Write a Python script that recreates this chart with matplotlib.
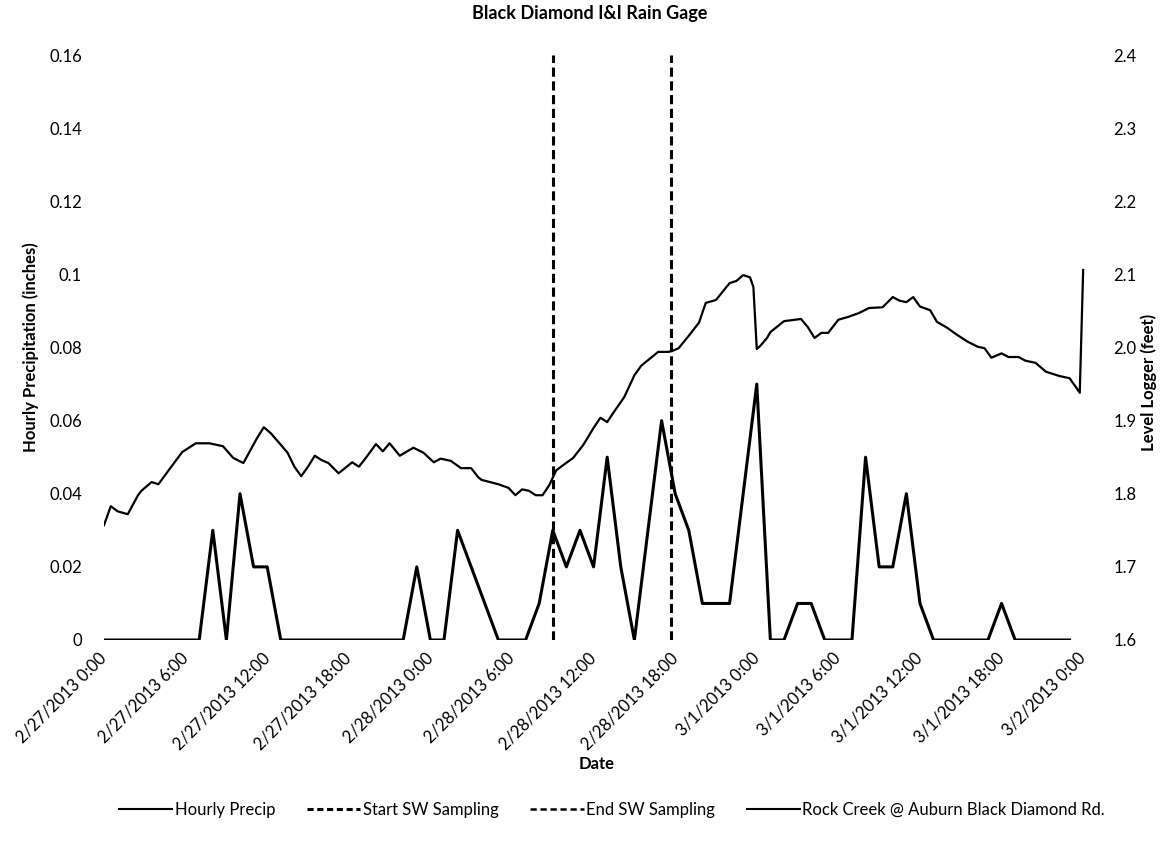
import matplotlib
import matplotlib.pyplot as plt
from matplotlib.lines import Line2D

plt.switch_backend('agg')
plt.rcParams['font.family'] = ['Lato', 'DejaVu Sans']

# hours after 2/27/2013 0:00
precip_hours = list(range(72))
precip_in = [0, 0, 0, 0, 0, 0, 0, 0, 0.03, 0, 0.04, 0.02, 0.02,
             0, 0, 0, 0, 0, 0, 0, 0, 0, 0,
             0.02, 0, 0, 0.03, 0.02, 0.01, 0, 0, 0, 0.01,
             0.03, 0.02, 0.03, 0.02, 0.05, 0.02, 0, 0.03, 0.06,
             0.04, 0.03, 0.01, 0.01, 0.01, 0.04, 0.07, 0, 0, 0.01, 0.01,
             0, 0, 0, 0.05, 0.02, 0.02, 0.04, 0.01,
             0, 0, 0, 0, 0, 0.01, 0, 0, 0, 0, 0]

level_hours = [0.0, 0.5, 1.0, 1.75, 2.5, 2.75, 3.5, 4.0, 4.75, 5.75, 6.75, 7.75,
               8.75, 9.5, 10.25, 11.25, 11.75, 12.25, 13.0, 13.5, 14.0, 14.5,
               15.0, 15.5, 16.0, 16.5, 17.25, 18.25, 18.75, 19.25, 20.0, 20.5,
               21.0, 21.75, 22.75, 23.5, 24.25, 24.75, 25.5, 26.25, 27.0, 27.5,
               27.75, 29.0, 29.75, 30.25, 30.75, 31.25, 31.75, 32.25, 32.75,
               33.25, 33.75, 34.5, 35.25, 36.0, 36.5, 37.0, 37.5, 38.25, 39.0,
               39.5, 40.75, 41.5, 41.75, 42.25, 43.0, 43.75, 44.25, 45.0, 46.0,
               46.5, 47.0, 47.5, 47.75, 48.0, 48.25, 48.75, 49.0, 50.0, 51.25,
               51.75, 52.25, 52.75, 53.25, 54.0, 54.75, 55.5, 56.25, 57.25,
               58.0, 58.5, 59.0, 59.5, 60.0, 60.75, 61.25, 62.0, 62.75, 63.5,
               64.25, 64.75, 65.25, 66.0, 66.5, 67.25, 67.75, 68.5, 69.25,
               70.25, 71.0, 71.5, 71.75, 72.0]
level_ft = [1.757, 1.783, 1.776, 1.772, 1.798, 1.804, 1.816, 1.813, 1.832, 1.857,
            1.869, 1.869, 1.865, 1.849, 1.842, 1.876, 1.891, 1.883, 1.867, 1.856,
            1.837, 1.824, 1.837, 1.852, 1.846, 1.842, 1.828, 1.843, 1.837, 1.849,
            1.868, 1.858, 1.869, 1.852, 1.863, 1.856, 1.843, 1.848, 1.845, 1.835,
            1.835, 1.823, 1.819, 1.813, 1.808, 1.798, 1.806, 1.804, 1.798, 1.798,
            1.812, 1.832, 1.839, 1.849, 1.867, 1.890, 1.904, 1.898, 1.912, 1.932,
            1.962, 1.975, 1.994, 1.994, 1.995, 1.999, 2.016, 2.034, 2.061, 2.065,
            2.088, 2.091, 2.099, 2.096, 2.083, 1.998, 2.002, 2.013, 2.021, 2.036,
            2.039, 2.028, 2.013, 2.020, 2.020, 2.038, 2.042, 2.047, 2.054, 2.055,
            2.069, 2.064, 2.062, 2.069, 2.056, 2.051, 2.035, 2.027, 2.017, 2.008,
            2.001, 1.999, 1.986, 1.992, 1.987, 1.987, 1.982, 1.979, 1.967, 1.961,
            1.958, 1.945, 1.938, 2.106]

start_sw = 33.0   # 2/28 9:00
end_sw = 41.67    # 2/28 ~17:40

tick_hours = [0, 6, 12, 18, 24, 30, 36, 42, 48, 54, 60, 66, 72]
tick_labels = ['2/27/2013 0:00', '2/27/2013 6:00', '2/27/2013 12:00', '2/27/2013 18:00',
               '2/28/2013 0:00', '2/28/2013 6:00', '2/28/2013 12:00', '2/28/2013 18:00',
               '3/1/2013 0:00', '3/1/2013 6:00', '3/1/2013 12:00', '3/1/2013 18:00',
               '3/2/2013 0:00']
left_ticks = [0, 0.02, 0.04, 0.06, 0.08, 0.1, 0.12, 0.14, 0.16]
left_labels = ['0', '0.02', '0.04', '0.06', '0.08', '0.1', '0.12', '0.14', '0.16']
right_ticks = [1.6, 1.7, 1.8, 1.9, 2.0, 2.1, 2.2, 2.3, 2.4]

fs = 12
fig = plt.figure(figsize=(11.65, 8.52), dpi=100)
ax = fig.add_axes([104 / 1165, 212 / 852, (1088.6 - 104) / 1165, 585 / 852])
ax2 = ax.twinx()

ax.plot(precip_hours, precip_in, color='black', lw=2.2)
ax.axvline(start_sw, color='black', lw=2.2, dashes=(3, 1.5))
ax.axvline(end_sw, color='black', lw=2.2, dashes=(3, 1.5))
ax2.plot(level_hours, level_ft, color='black', lw=1.6)

ax.set_xlim(0, 72.4)
ax.set_ylim(0, 0.16)
ax2.set_ylim(1.6, 2.4)

ax.set_xticks(tick_hours)
ax.set_xticklabels(tick_labels, rotation=45, ha='right', va='center',
                   rotation_mode='anchor', fontsize=fs)
ax.set_yticks(left_ticks)
ax.set_yticklabels(left_labels, fontsize=fs)
ax2.set_yticks(right_ticks)
ax2.set_yticklabels(['%.1f' % v for v in right_ticks], fontsize=fs)

for a in (ax, ax2):
    for s in a.spines.values():
        s.set_visible(False)
    a.tick_params(length=0)
ax.tick_params(axis='x', pad=11)
ax.tick_params(axis='y', pad=16)
ax2.tick_params(axis='y', pad=18)

ax.set_ylabel('Hourly Precipitation (inches)', fontsize=fs, fontweight='bold')
ax.yaxis.set_label_coords(-0.066, 0.5)
ax2.set_ylabel('Level Logger (feet)', fontsize=fs, fontweight='bold')
ax2.yaxis.set_label_coords(1.053, 0.44)
ax.set_xlabel('Date', fontsize=fs, fontweight='bold')
ax.xaxis.set_label_coords(0.5, -0.198)

fig.text(590 / 1165, 1 - 14 / 852, 'Black Diamond I&I Rain Gage', ha='center', va='center',
         fontsize=13, fontweight='bold')

handles = [Line2D([], [], color='black', lw=1.5),
           Line2D([], [], color='black', lw=2.2, dashes=(2, 1.2)),
           Line2D([], [], color='black', lw=1.8, dashes=(2.5, 1.5)),
           Line2D([], [], color='black', lw=1.5)]
labels = ['Hourly Precip', 'Start SW Sampling', 'End SW Sampling',
          'Rock Creek @ Auburn Black Diamond Rd.']
fig.legend(handles, labels, loc='center', bbox_to_anchor=(612 / 1165, 1 - 810 / 852),
           ncol=4, frameon=False, fontsize=fs, handlelength=3.2, handletextpad=0.15,
           columnspacing=1.9)

plt.savefig('out.png', dpi=100)
